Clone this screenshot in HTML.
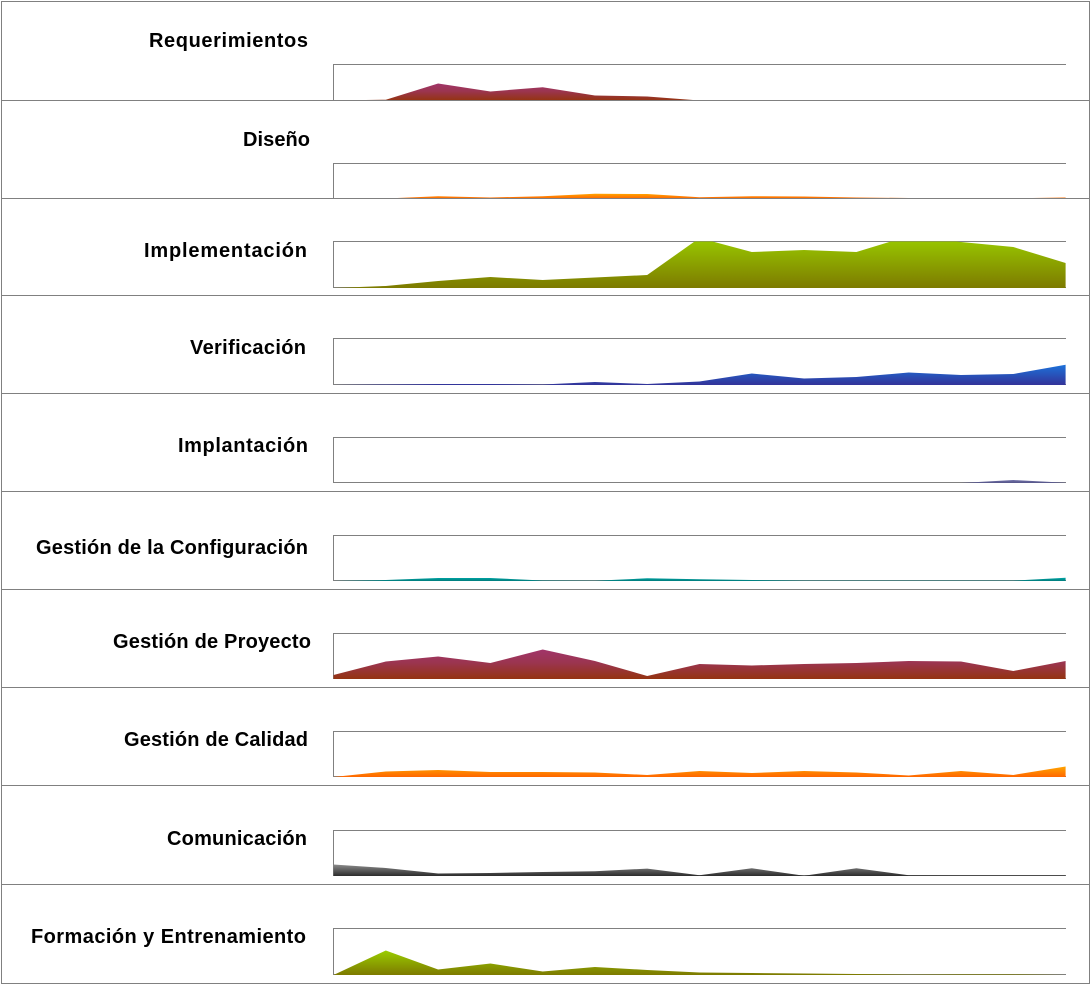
<!DOCTYPE html>
<html><head><meta charset="utf-8"><style>
html,body{margin:0;padding:0;background:#fff;}
svg{display:block;}
text{font-family:"Liberation Sans",Arial,sans-serif;font-weight:bold;font-size:20px;fill:#000;}
</style></head><body>
<svg width="1092" height="985" viewBox="0 0 1092 985" xmlns="http://www.w3.org/2000/svg">
<defs>
<linearGradient id="gRed" x1="0" y1="0" x2="0" y2="1"><stop offset="0" stop-color="#A1356A"/><stop offset="0.45" stop-color="#9B3550"/><stop offset="1" stop-color="#943310"/></linearGradient>
<linearGradient id="gOr" x1="0" y1="0" x2="0" y2="1"><stop offset="0" stop-color="#FFA500"/><stop offset="1" stop-color="#FF6600"/></linearGradient>
<linearGradient id="gGr" x1="0" y1="0" x2="0" y2="1"><stop offset="0" stop-color="#9ACD00"/><stop offset="1" stop-color="#7D7A00"/></linearGradient>
<linearGradient id="gBl" x1="0" y1="0" x2="0" y2="1"><stop offset="0" stop-color="#1C72DA"/><stop offset="1" stop-color="#333399"/></linearGradient>
<linearGradient id="gLav" x1="0" y1="0" x2="0" y2="1"><stop offset="0" stop-color="#7070A8"/><stop offset="1" stop-color="#555588"/></linearGradient>
<linearGradient id="gTe" x1="0" y1="0" x2="0" y2="1"><stop offset="0" stop-color="#00A8A8"/><stop offset="1" stop-color="#007C7C"/></linearGradient>
<linearGradient id="gGy" x1="0" y1="0" x2="0" y2="1"><stop offset="0" stop-color="#8C8C8C"/><stop offset="1" stop-color="#2C2C2C"/></linearGradient>
<clipPath id="c1"><rect x="333" y="64.5" width="734" height="36"/></clipPath>
<clipPath id="c2"><rect x="333" y="163.5" width="734" height="35"/></clipPath>
<clipPath id="c3"><rect x="333" y="241.5" width="734" height="47"/></clipPath>
</defs>

<!-- plot frames -->
<g fill="none" stroke="#808080" stroke-width="1">
<path d="M1066,64.5 H333.5 V100"/>
<path d="M1066,163.5 H333.5 V198"/>
<path d="M1066,241.5 H333.5 V287.5 H1066"/>
<path d="M1066,338.5 H333.5 V384.5 H1066"/>
<path d="M1066,437.5 H333.5 V482.5 H1066"/>
<path d="M1066,535.5 H333.5 V580.5 H1066"/>
<path d="M1066,633.5 H333.5 V678.5 H1066"/>
<path d="M1066,731.5 H333.5 V776.5 H1066"/>
<path d="M1066,830.5 H333.5 V875.5 H1066"/>
<path d="M1066,928.5 H333.5 V974.5 H1066"/>
</g>

<!-- areas -->
<g clip-path="url(#c1)"><g transform="translate(0,100.5)"><polygon fill="url(#gRed)" points="333.5,0 385.8,-0.8 438.1,-17 490.4,-9 542.7,-13.3 594.9,-5 647.2,-4 699.5,0"/></g></g>

<g clip-path="url(#c2)"><g transform="translate(0,198.5)"><polygon fill="url(#gOr)" points="333.5,0 385.8,0 438.1,-2.3 490.4,-1 542.7,-2.3 594.9,-4.7 647.2,-4.5 699.5,-1.3 751.8,-2.3 804.1,-2 856.4,-1 908.7,-0.5 961,-0.3 1013.3,-0.2 1065.6,-1 1065.6,0"/></g></g>

<g clip-path="url(#c3)"><g transform="translate(0,288)"><polygon fill="url(#gGr)" points="333.5,0 385.8,-2 438.1,-7 490.4,-11 542.7,-8 594.9,-10.5 647.2,-13 699.5,-50 751.8,-36 804.1,-38 856.4,-36 908.7,-52 961,-46 1013.3,-41 1065.6,-25 1065.6,0"/></g></g>

<g transform="translate(0,385)"><polygon fill="url(#gBl)" points="333.5,0 385.8,-0.5 438.1,-1 490.4,-1 542.7,-0.5 594.9,-3 647.2,-1 699.5,-3.5 751.8,-11.5 804.1,-6.5 856.4,-8 908.7,-12.5 961,-10 1013.3,-11 1065.6,-20.3 1065.6,0"/></g>

<g transform="translate(0,483)"><polygon fill="url(#gLav)" points="961,0 1013.3,-3 1065.6,-0.3 1065.6,0"/></g>

<g transform="translate(0,581)"><polygon fill="url(#gTe)" points="333.5,0 385.8,-1 438.1,-3 490.4,-3 542.7,-0.5 594.9,-0.2 647.2,-2.7 699.5,-1.7 751.8,-1 804.1,-0.4 856.4,-0.4 908.7,-0.4 961,-0.4 1013.3,-0.4 1065.6,-3.3 1065.6,0"/></g>

<g transform="translate(0,679)"><polygon fill="url(#gRed)" points="333.5,0 333.5,-4 385.8,-17.5 438.1,-22.5 490.4,-16 542.7,-29.5 594.9,-18 647.2,-3 699.5,-15 751.8,-13.5 804.1,-15 856.4,-16 908.7,-18 961,-17.5 1013.3,-8 1065.6,-18 1065.6,0"/></g>

<g transform="translate(0,777)"><polygon fill="url(#gOr)" points="333.5,0 385.8,-5.5 438.1,-7 490.4,-5 542.7,-5 594.9,-4.5 647.2,-2 699.5,-6 751.8,-4 804.1,-6 856.4,-4.5 908.7,-1.5 961,-6 1013.3,-2 1065.6,-10.5 1065.6,0"/></g>

<g transform="translate(0,876)"><polygon fill="url(#gGy)" points="333.5,0 333.5,-11.5 385.8,-8 438.1,-2.5 490.4,-3 542.7,-4 594.9,-4.7 647.2,-7.4 699.5,-0.7 751.8,-7.7 804.1,-0.2 856.4,-7.7 908.7,-0.7 961,-0.6 1013.3,-0.6 1065.6,-0.6 1065.6,0"/></g>

<g transform="translate(0,975)"><polygon fill="url(#gGr)" points="333.5,0 385.8,-24.5 438.1,-5.5 490.4,-11.5 542.7,-3.5 594.9,-8 647.2,-5 699.5,-2.5 751.8,-2 804.1,-1.5 856.4,-1 908.7,-0.4 961,-0.6 1013.3,-0.6 1065.6,0"/></g>

<!-- separators & border -->
<g fill="none" stroke="#808080" stroke-width="1">
<rect x="1.5" y="1.5" width="1088" height="982"/>
<line x1="1" y1="100.5" x2="1090" y2="100.5"/>
<line x1="1" y1="198.5" x2="1090" y2="198.5"/>
<line x1="1" y1="295.5" x2="1090" y2="295.5"/>
<line x1="1" y1="393.5" x2="1090" y2="393.5"/>
<line x1="1" y1="491.5" x2="1090" y2="491.5"/>
<line x1="1" y1="589.5" x2="1090" y2="589.5"/>
<line x1="1" y1="687.5" x2="1090" y2="687.5"/>
<line x1="1" y1="785.5" x2="1090" y2="785.5"/>
<line x1="1" y1="884.5" x2="1090" y2="884.5"/>
</g>

<!-- titles -->
<text x="308" y="47" text-anchor="end" textLength="159" lengthAdjust="spacing">Requerimientos</text>
<text x="310" y="146" text-anchor="end" textLength="67" lengthAdjust="spacing">Diseño</text>
<text x="307" y="257" text-anchor="end" textLength="163" lengthAdjust="spacing">Implementación</text>
<text x="306" y="354" text-anchor="end" textLength="116" lengthAdjust="spacing">Verificación</text>
<text x="308" y="452" text-anchor="end" textLength="130" lengthAdjust="spacing">Implantación</text>
<text x="308" y="554" text-anchor="end" textLength="272" lengthAdjust="spacing">Gestión de la Configuración</text>
<text x="311" y="648" text-anchor="end" textLength="198" lengthAdjust="spacing">Gestión de Proyecto</text>
<text x="308" y="746" text-anchor="end" textLength="184" lengthAdjust="spacing">Gestión de Calidad</text>
<text x="307" y="845" text-anchor="end" textLength="140" lengthAdjust="spacing">Comunicación</text>
<text x="306" y="943" text-anchor="end" textLength="275" lengthAdjust="spacing">Formación y Entrenamiento</text>
</svg>
</body></html>
